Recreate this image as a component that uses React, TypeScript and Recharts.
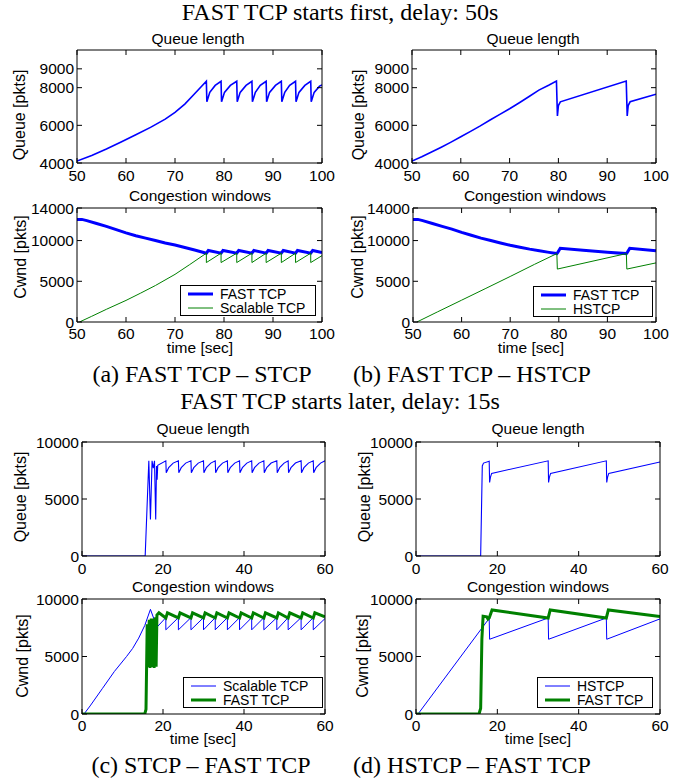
import React from "react";
import { LineChart, Line, XAxis, YAxis } from "recharts";

// ---- data: [time, value] ----
const aQueue = [
  [50, 4100], [53, 4400], [56, 4740], [59, 5120], [62, 5500], [65, 5890], [68, 6330], [70, 6690],
  [72, 7130], [74, 7680], [76.4, 8340],
  [76.5, 7250], [77.1, 7750], [78.2, 8120], [79.4, 8340],
  [79.5, 7250], [80.1, 7750], [81.3, 8120], [82.6, 8340],
  [82.7, 7250], [83.3, 7750], [84.5, 8120], [85.7, 8340],
  [85.8, 7250], [86.4, 7750], [87.4, 8120], [88.6, 8340],
  [88.7, 7250], [89.3, 7750], [90.5, 8120], [91.7, 8340],
  [91.8, 7250], [92.4, 7750], [93.4, 8120], [94.6, 8340],
  [94.7, 7250], [95.3, 7750], [96.5, 8120], [97.7, 8340],
  [97.8, 7250], [98.4, 7750], [99.5, 8080], [100, 8150],
];
const aFast = [
  [50, 12600], [51, 12600], [52, 12450], [54, 12100], [56, 11750], [58, 11350], [60, 10950],
  [62, 10600], [64, 10300], [66, 10000], [68, 9700], [70, 9450], [72, 9150], [74, 8850], [76.4, 8450],
  [76.8, 8780], [79.4, 8450], [79.8, 8780], [82.6, 8450], [83.0, 8780], [85.7, 8450], [86.1, 8780],
  [88.6, 8450], [89.0, 8780], [91.7, 8450], [92.1, 8780], [94.6, 8450], [95.0, 8780], [97.7, 8450],
  [98.1, 8780], [100, 8520],
];
const aStcp = [
  [50.5, 0], [53, 700], [56, 1560], [60, 2650], [63, 3550], [66, 4480], [70, 5850], [73, 7050],
  [76.4, 8450], [76.4, 7300], [79.4, 8450], [79.4, 7300], [82.6, 8450], [82.6, 7300], [85.7, 8450],
  [85.7, 7300], [88.6, 8450], [88.6, 7300], [91.7, 8450], [91.7, 7300], [94.6, 8450], [94.6, 7300],
  [97.7, 8450], [97.7, 7300], [100, 8150],
];

const bQueue = [
  [50, 4100], [52, 4330], [54, 4580], [56, 4840], [58, 5110], [60, 5390], [62, 5680], [64, 5970],
  [66, 6280], [68, 6580], [70, 6880], [72, 7200], [74, 7530], [76, 7870], [78, 8130], [79.6, 8350],
  [79.8, 6500], [80.0, 7050], [80.4, 7250], [93.9, 8350], [94.1, 6500], [94.3, 7050], [94.7, 7250],
  [100, 7650],
];
const bFast = [
  [50, 12600], [51, 12600], [52, 12450], [54, 12100], [56, 11750], [58, 11400], [60, 11000],
  [62, 10650], [64, 10300], [66, 10000], [68, 9700], [70, 9420], [72, 9180], [74, 8950], [76, 8750],
  [78, 8550], [79.6, 8400], [79.8, 8550], [80.3, 9050], [85, 8800], [90, 8580], [93.9, 8400],
  [94.1, 8550], [94.6, 9050], [100, 8750],
];
const bHstcp = [
  [50.8, 0], [55, 1230], [60, 2680], [65, 4130], [70, 5590], [75, 7080], [79.6, 8400], [79.7, 6500],
  [93.9, 8400], [94.0, 6500], [100, 7260],
];

const cQueue = [
  [0, 0], [15.6, 0], [16.5, 8350], [16.9, 3200], [17.3, 8350], [17.6, 7700], [17.9, 8350],
  [18.2, 3200], [18.4, 7900], [18.55, 6700], [18.7, 7950], [20.7, 8350],
  [20.8, 7300], [21.4, 7750], [22.5, 8150], [23.8, 8350],
  [23.9, 7300], [24.5, 7750], [25.6, 8150], [26.9, 8350],
  [27.0, 7300], [27.6, 7750], [28.7, 8150], [30.0, 8350],
  [30.1, 7300], [30.7, 7750], [31.8, 8150], [32.9, 8350],
  [33.0, 7300], [33.6, 7750], [34.7, 8150], [35.9, 8350],
  [36.0, 7300], [36.6, 7750], [37.7, 8150], [38.9, 8350],
  [39.0, 7300], [39.6, 7750], [40.7, 8150], [41.9, 8350],
  [42.0, 7300], [42.6, 7750], [43.7, 8150], [44.9, 8350],
  [45.0, 7300], [45.6, 7750], [46.7, 8150], [48.1, 8350],
  [48.2, 7300], [48.8, 7750], [49.9, 8150], [50.9, 8350],
  [51.0, 7300], [51.6, 7750], [52.7, 8150], [54.1, 8350],
  [54.2, 7300], [54.8, 7750], [55.9, 8150], [57.1, 8350],
  [57.2, 7300], [57.8, 7750], [58.9, 8150], [60, 8350],
];
const cStcp = [
  [0.5, 0], [2, 700], [5, 2200], [8, 3700], [11, 5000], [12.5, 5700], [14, 6600], [15.5, 7700],
  [16.9, 9100], [18.5, 7550], [20.7, 8380],
  [20.7, 7320], [23.8, 8380], [23.8, 7320], [26.9, 8380], [26.9, 7320], [30.0, 8380], [30.0, 7320],
  [32.9, 8380], [32.9, 7320], [35.9, 8380], [35.9, 7320], [38.9, 8380], [38.9, 7320], [41.9, 8380],
  [41.9, 7320], [44.9, 8380], [44.9, 7320], [48.1, 8380], [48.1, 7320], [50.9, 8380], [50.9, 7320],
  [54.1, 8380], [54.1, 7320], [57.1, 8380], [57.1, 7320], [60, 8300],
];
const cFast = [
  [0, 0], [15.5, 0], [15.8, 400], [16.1, 7800], [16.3, 4100], [16.6, 8200], [16.8, 4000],
  [17.1, 8300], [17.3, 4100], [17.6, 8300], [17.8, 4000], [18.1, 8400], [18.3, 4100], [18.5, 8600],
  [19.0, 8800], [20.7, 8350],
  [21.1, 8800], [23.8, 8350], [24.2, 8800], [26.9, 8350], [27.3, 8800], [30.0, 8350], [30.4, 8800],
  [32.9, 8350], [33.3, 8800], [35.9, 8350], [36.3, 8800], [38.9, 8350], [39.3, 8800], [41.9, 8350],
  [42.3, 8800], [44.9, 8350], [45.3, 8800], [48.1, 8350], [48.5, 8800], [50.9, 8350], [51.3, 8800],
  [54.1, 8350], [54.5, 8800], [57.1, 8350], [57.5, 8800], [60, 8450],
];

const dQueue = [
  [0, 0], [15.9, 0], [16.3, 7900], [16.6, 8150], [18.0, 8320], [18.1, 6450], [18.3, 6900],
  [18.6, 7250], [32.5, 8350], [32.6, 6450], [32.8, 6900], [33.1, 7250], [46.8, 8350], [46.9, 6450],
  [47.1, 6900], [47.4, 7250], [60, 8250],
];
const dHstcp = [
  [0.5, 0], [18.0, 8320], [18.1, 6500], [32.5, 8350], [32.6, 6500], [46.8, 8350], [46.9, 6500],
  [60, 8270],
];
const dFast = [
  [0, 0], [15.5, 0], [15.9, 500], [16.2, 6500], [16.5, 8500], [17.4, 8450], [17.7, 8250],
  [18.0, 8350], [18.7, 9050], [32.5, 8350], [33.0, 9050], [46.8, 8350], [47.3, 9050], [60, 8470],
];

const ticksA = [50, 60, 70, 80, 90, 100];
const ticksC = [0, 20, 40, 60];
const queueTicksA = [4000, 6000, 8000, 9000];
const cwndTicksA = [0, 5000, 10000, 14000];
const ticks10k = [0, 5000, 10000];

const BLUE = "#0000ff";
const GREEN = "#008000";
const SANS = "'Liberation Sans', Arial, sans-serif";
const SERIF = "'Liberation Serif', 'Times New Roman', serif";

type Series = { name: string; rows: number[][]; color: string; width: number };
type Box = { left: number; top: number; right: number; bottom: number };

const toPts = (rows: number[][]) => rows.map(([t, v]) => ({ t, v }));

const PAD_L = 60;
const PAD_T = 10;
const PAD_R = 24;
const PAD_B = 30;
const tickStyle = { fontSize: 15.5, fill: "#000", fontFamily: SANS };

function Panel({ box, xDomain, xTicks, yDomain, yTicks, series, xGap }: {
  box: Box; xDomain: number[]; xTicks: number[]; yDomain: number[]; yTicks: number[];
  series: Series[]; xGap: number;
}) {
  const pw = box.right - box.left;
  const ph = box.bottom - box.top;
  const empty = () => "";
  return (
    <div style={{ position: "absolute", left: box.left - PAD_L, top: box.top - PAD_T }}>
      <LineChart width={PAD_L + pw + PAD_R} height={PAD_T + ph + PAD_B}
        margin={{ top: PAD_T - 1, right: PAD_R - 1, bottom: 0, left: 0 }}>
        <XAxis type="number" dataKey="t" domain={xDomain} ticks={xTicks} interval={0}
          allowDataOverflow height={PAD_B} tickSize={-5} tickMargin={xGap}
          axisLine={{ stroke: "#000" }} tickLine={{ stroke: "#000" }} tick={tickStyle} />
        <XAxis xAxisId="top" orientation="top" type="number" dataKey="t" domain={xDomain}
          ticks={xTicks} interval={0} allowDataOverflow height={1} tickSize={-5}
          tickFormatter={empty} axisLine={{ stroke: "#000" }} tickLine={{ stroke: "#000" }} />
        <YAxis type="number" domain={yDomain} ticks={yTicks} interval={0} allowDataOverflow
          width={PAD_L} tickSize={-5} tickMargin={8}
          axisLine={{ stroke: "#000" }} tickLine={{ stroke: "#000" }} tick={tickStyle} />
        <YAxis yAxisId="right" orientation="right" type="number" domain={yDomain} ticks={yTicks}
          interval={0} allowDataOverflow width={1} tickSize={-5} tickFormatter={empty}
          axisLine={{ stroke: "#000" }} tickLine={{ stroke: "#000" }} />
        {series.map((s) => (
          <Line key={s.name} name={s.name} data={toPts(s.rows)} dataKey="v" type="linear"
            stroke={s.color} strokeWidth={s.width} dot={false} isAnimationActive={false} />
        ))}
      </LineChart>
    </div>
  );
}

function LegendBox({ box, series }: { box: Box; series: Series[] }) {
  const w = box.right - box.left;
  const h = box.bottom - box.top;
  return (
    <svg width={w} height={h} style={{ position: "absolute", left: box.left, top: box.top }}>
      <rect x={0.5} y={0.5} width={w - 1} height={h - 1} fill="#fff" stroke="#000" />
      {series.map((s, i) => (
        <g key={s.name}>
          <line x1={8} x2={33} y1={9 + i * 14} y2={9 + i * 14} stroke={s.color} strokeWidth={s.width} />
          <text x={40} y={9 + i * 14} dominantBaseline="central" fontSize={14} fontFamily={SANS}>
            {s.name}
          </text>
        </g>
      ))}
    </svg>
  );
}

function Txt({ x, y, children, size = 15.5, font = SANS, rotate = false }: {
  x: number; y: number; children: React.ReactNode; size?: number; font?: string; rotate?: boolean;
}) {
  return (
    <div style={{
      position: "absolute", left: x, top: y, fontSize: size, fontFamily: font, lineHeight: 1,
      whiteSpace: "nowrap", transform: `translate(-50%, -50%)${rotate ? " rotate(-90deg)" : ""}`,
    }}>
      {children}
    </div>
  );
}

export default function App() {
  const aCwnd: Series[] = [
    { name: "FAST TCP", rows: aFast, color: BLUE, width: 3 },
    { name: "Scalable TCP", rows: aStcp, color: GREEN, width: 1 },
  ];
  const bCwnd: Series[] = [
    { name: "FAST TCP", rows: bFast, color: BLUE, width: 3 },
    { name: "HSTCP", rows: bHstcp, color: GREEN, width: 1 },
  ];
  const cCwnd: Series[] = [
    { name: "Scalable TCP", rows: cStcp, color: BLUE, width: 1 },
    { name: "FAST TCP", rows: cFast, color: GREEN, width: 3 },
  ];
  const dCwnd: Series[] = [
    { name: "HSTCP", rows: dHstcp, color: BLUE, width: 1 },
    { name: "FAST TCP", rows: dFast, color: GREEN, width: 3 },
  ];

  return (
    <div style={{ position: "absolute", left: 0, top: 0, width: 696, height: 782, background: "#fff" }}>
      <Txt x={340} y={12} size={24} font={SERIF}>FAST TCP starts first, delay: 50s</Txt>

      <Txt x={198} y={39}>Queue length</Txt>
      <Panel box={{ left: 77, top: 50, right: 322, bottom: 163 }} xDomain={[50, 100]} xTicks={ticksA}
        yDomain={[4000, 10000]} yTicks={queueTicksA} xGap={12}
        series={[{ name: "Queue", rows: aQueue, color: BLUE, width: 1.6 }]} />
      <Txt x={20} y={115} size={16} rotate>Queue [pkts]</Txt>

      <Txt x={533} y={39}>Queue length</Txt>
      <Panel box={{ left: 412, top: 50, right: 656, bottom: 163 }} xDomain={[50, 100]} xTicks={ticksA}
        yDomain={[4000, 10000]} yTicks={queueTicksA} xGap={12}
        series={[{ name: "Queue", rows: bQueue, color: BLUE, width: 1.6 }]} />
      <Txt x={359} y={115} size={16} rotate>Queue [pkts]</Txt>

      <Txt x={200} y={196}>Congestion windows</Txt>
      <Panel box={{ left: 77, top: 208, right: 322, bottom: 322 }} xDomain={[50, 100]} xTicks={ticksA}
        yDomain={[0, 14000]} yTicks={cwndTicksA} series={aCwnd} xGap={11} />
      <LegendBox box={{ left: 180, top: 285, right: 316, bottom: 316 }} series={aCwnd} />
      <Txt x={21} y={257} size={16} rotate>Cwnd [pkts]</Txt>
      <Txt x={200} y={348}>time [sec]</Txt>

      <Txt x={535} y={196}>Congestion windows</Txt>
      <Panel box={{ left: 413, top: 208, right: 656, bottom: 322 }} xDomain={[50, 100]} xTicks={ticksA}
        yDomain={[0, 14000]} yTicks={cwndTicksA} series={bCwnd} xGap={11} />
      <LegendBox box={{ left: 533, top: 286, right: 653, bottom: 317 }} series={bCwnd} />
      <Txt x={358} y={257} size={16} rotate>Cwnd [pkts]</Txt>
      <Txt x={531} y={348}>time [sec]</Txt>

      <Txt x={202} y={374} size={24} font={SERIF}>(a) FAST TCP – STCP</Txt>
      <Txt x={472} y={374} size={24} font={SERIF}>(b) FAST TCP – HSTCP</Txt>
      <Txt x={340} y={401} size={24} font={SERIF}>FAST TCP starts later, delay: 15s</Txt>

      <Txt x={203} y={429}>Queue length</Txt>
      <Panel box={{ left: 82, top: 442, right: 325, bottom: 556 }} xDomain={[0, 60]} xTicks={ticksC}
        yDomain={[0, 10000]} yTicks={ticks10k} xGap={12}
        series={[{ name: "Queue", rows: cQueue, color: BLUE, width: 1.1 }]} />
      <Txt x={21} y={497} size={16} rotate>Queue [pkts]</Txt>

      <Txt x={538} y={429}>Queue length</Txt>
      <Panel box={{ left: 416, top: 442, right: 660, bottom: 556 }} xDomain={[0, 60]} xTicks={ticksC}
        yDomain={[0, 10000]} yTicks={ticks10k} xGap={12}
        series={[{ name: "Queue", rows: dQueue, color: BLUE, width: 1.1 }]} />
      <Txt x={365} y={497} size={16} rotate>Queue [pkts]</Txt>

      <Txt x={203} y={587}>Congestion windows</Txt>
      <Panel box={{ left: 82, top: 599, right: 325, bottom: 714 }} xDomain={[0, 60]} xTicks={ticksC}
        yDomain={[0, 10000]} yTicks={ticks10k} series={cCwnd} xGap={11} />
      <LegendBox box={{ left: 183, top: 677, right: 323, bottom: 708 }} series={cCwnd} />
      <Txt x={23} y={656} size={16} rotate>Cwnd [pkts]</Txt>
      <Txt x={203} y={739}>time [sec]</Txt>

      <Txt x={538} y={587}>Congestion windows</Txt>
      <Panel box={{ left: 416, top: 599, right: 660, bottom: 714 }} xDomain={[0, 60]} xTicks={ticksC}
        yDomain={[0, 10000]} yTicks={ticks10k} series={dCwnd} xGap={11} />
      <LegendBox box={{ left: 537, top: 677, right: 653, bottom: 708 }} series={dCwnd} />
      <Txt x={363} y={656} size={16} rotate>Cwnd [pkts]</Txt>
      <Txt x={538} y={739}>time [sec]</Txt>

      <Txt x={201} y={765} size={24} font={SERIF}>(c) STCP – FAST TCP</Txt>
      <Txt x={472} y={765} size={24} font={SERIF}>(d) HSTCP – FAST TCP</Txt>
    </div>
  );
}
